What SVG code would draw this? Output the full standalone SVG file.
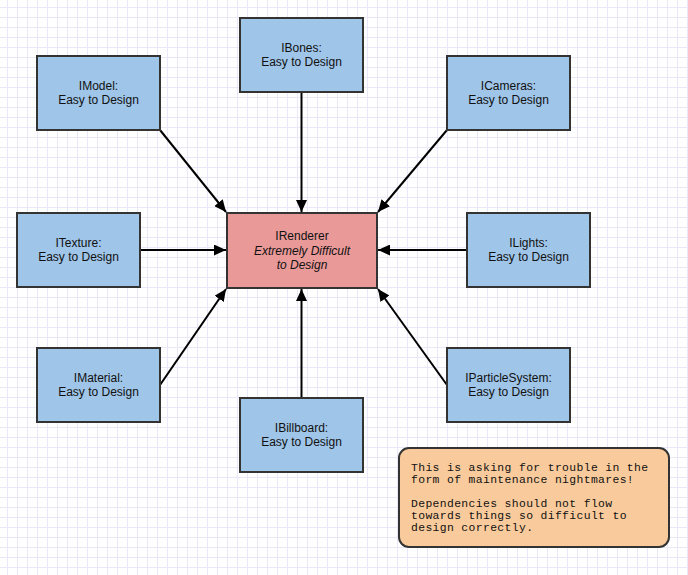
<svg xmlns="http://www.w3.org/2000/svg" width="688" height="575" viewBox="0 0 688 575">
<style>
.box{fill:#9fc5e8;stroke:#333333;stroke-width:2}
.red{fill:#ea9999;stroke:#333333;stroke-width:2}
.note{fill:#f9cb9c;stroke:#333333;stroke-width:2}
.lbl{font-family:"Liberation Sans",Arial,sans-serif;font-size:12px;fill:#111111;text-anchor:middle}
.it{font-style:italic}
.mono{font-family:"Liberation Mono","Courier New",monospace;font-size:11.4px;letter-spacing:0.36px;fill:#111111}
.edge{stroke:#000000;stroke-width:2;fill:none;marker-end:url(#arr)}
</style>
<defs>
<pattern id="grid" width="10" height="10" patternUnits="userSpaceOnUse" x="7" y="7">
<rect x="0" y="0" width="1" height="10" fill="#e8e8f8"/>
<rect x="0" y="0" width="10" height="1" fill="#e8e8f8"/>
</pattern>
<marker id="arr" markerUnits="userSpaceOnUse" markerWidth="12" markerHeight="11" refX="12" refY="5.5" orient="auto">
<path d="M0,0 L12,5.5 L0,11 Z" fill="#000000"/>
</marker>
</defs>
<rect width="688" height="575" fill="#ffffff"/>
<rect width="688" height="575" fill="url(#grid)"/>
<g id="connectors">
<line class="edge" x1="160" y1="130" x2="226" y2="212"/>
<line class="edge" x1="301.5" y1="92" x2="301.5" y2="212"/>
<line class="edge" x1="447" y1="130" x2="378" y2="212"/>
<line class="edge" x1="140" y1="250" x2="226" y2="250"/>
<line class="edge" x1="467" y1="250" x2="378" y2="250"/>
<line class="edge" x1="160" y1="385" x2="226" y2="289"/>
<line class="edge" x1="301.5" y1="398" x2="301.5" y2="289"/>
<line class="edge" x1="447" y1="385" x2="378" y2="289"/>
</g>
<g id="IModel">
<rect class="box" x="37" y="56" width="123" height="74"/>
<text class="lbl" x="98.5" y="89.5">IModel:</text>
<text class="lbl" x="98.5" y="104">Easy to Design</text>
</g>
<g id="IBones">
<rect class="box" x="240" y="18" width="123" height="74"/>
<text class="lbl" x="301.5" y="51.5">IBones:</text>
<text class="lbl" x="301.5" y="66">Easy to Design</text>
</g>
<g id="ICameras">
<rect class="box" x="447" y="56" width="123" height="74"/>
<text class="lbl" x="508.5" y="89.5">ICameras:</text>
<text class="lbl" x="508.5" y="104">Easy to Design</text>
</g>
<g id="ITexture">
<rect class="box" x="17" y="213" width="123" height="74"/>
<text class="lbl" x="78.5" y="246.5">ITexture:</text>
<text class="lbl" x="78.5" y="261">Easy to Design</text>
</g>
<g id="IRenderer">
<rect class="red" x="227" y="213" width="150" height="75"/>
<text class="lbl" x="302" y="240">IRenderer</text>
<text class="lbl it" x="302" y="254.5">Extremely Difficult</text>
<text class="lbl it" x="302" y="269">to Design</text>
</g>
<g id="ILights">
<rect class="box" x="467" y="213" width="123" height="74"/>
<text class="lbl" x="528.5" y="246.5">ILights:</text>
<text class="lbl" x="528.5" y="261">Easy to Design</text>
</g>
<g id="IMaterial">
<rect class="box" x="37" y="348" width="123" height="74"/>
<text class="lbl" x="98.5" y="381.5">IMaterial:</text>
<text class="lbl" x="98.5" y="396">Easy to Design</text>
</g>
<g id="IBillboard">
<rect class="box" x="240" y="398" width="123" height="74"/>
<text class="lbl" x="301.5" y="431.5">IBillboard:</text>
<text class="lbl" x="301.5" y="446">Easy to Design</text>
</g>
<g id="IParticleSystem">
<rect class="box" x="447" y="348" width="123" height="74"/>
<text class="lbl" x="508.5" y="381.5">IParticleSystem:</text>
<text class="lbl" x="508.5" y="396">Easy to Design</text>
</g>
<g id="note">
<rect class="note" x="399" y="448" width="270" height="99" rx="10" ry="10"/>
<text class="mono" x="411" y="470.5">This is asking for trouble in the</text>
<text class="mono" x="411" y="482.6">form of maintenance nightmares!</text>
<text class="mono" x="411" y="506.8">Dependencies should not flow</text>
<text class="mono" x="411" y="518.9">towards things so difficult to</text>
<text class="mono" x="411" y="531">design correctly.</text>
</g>
</svg>
